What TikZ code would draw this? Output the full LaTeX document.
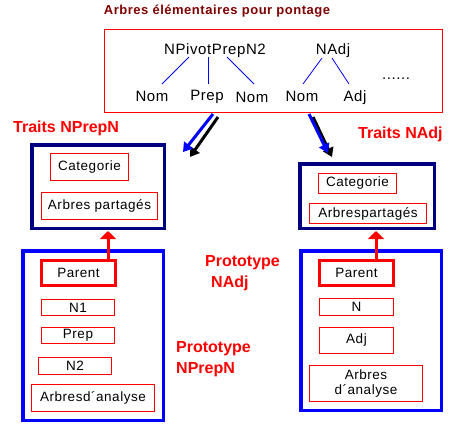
\documentclass[tikz,border=0pt]{standalone}
\usepackage{fontspec}
\setmainfont{Liberation Sans}
\newfontfamily\spc[LetterSpace=4]{Liberation Sans}
\usetikzlibrary{arrows.meta,calc}
\definecolor{navy}{RGB}{0,0,128}
\definecolor{pblue}{RGB}{0,0,255}
\definecolor{pred}{RGB}{255,0,0}
\definecolor{maroon}{RGB}{128,0,0}
\begin{document}
\begin{tikzpicture}[x=1pt,y=-1pt,
  box/.style={draw=pred, line width=1pt, inner sep=0pt, font=\spc\fontsize{13.5}{16}\selectfont},
  pbox/.style={box, line width=3pt},
  feat/.style={draw=navy, line width=3.5pt, inner sep=0pt},
  proto/.style={draw=pblue, line width=3.5pt, inner sep=0pt},
  tree/.style={draw=pblue, line width=0.8pt},
  tt/.style={inner sep=0pt, anchor=base, font=\spc\fontsize{15}{18}\selectfont},
  lab/.style={inner sep=0pt, anchor=base west, text=pred, font=\bfseries\fontsize{16}{19}\selectfont},
  redarr/.style={draw=pred, line width=3pt, -{Triangle[width=16pt,length=8pt]}},
  fat/.style={line width=3pt, -{Triangle[width=11pt,length=9pt]}}]
\fill[white] (0,0) rectangle (455,429);
\useasboundingbox (0,0) rectangle (455,429);

% title
\node[inner sep=0pt, anchor=base, text=maroon, font=\bfseries\spc\fontsize{13}{16}\selectfont] (title) at (217,14) {Arbres élémentaires pour pontage};

% top box
\node[draw=pred, line width=1pt, minimum width=338pt, minimum height=83pt, inner sep=0pt] (top) at (273.5,71) {};
\node[tt] (npv) at (215,54) {NPivotPrepN2};
\node[tt] (nadj) at (333,54) {NAdj};
\node[tt] (nom1) at (152,101) {Nom};
\node[tt] (prep) at (207,100) {Prep};
\node[tt] (nom2) at (252,102) {Nom};
\node[tt] (nom3) at (302,101) {Nom};
\node[tt] (adj) at (355,101) {Adj};
\node[tt] (dots) at (396,79) {......};
\draw[tree] ($(npv.base)+(-26,3)$) -- ($(nom1.base)+(10,-17)$);
\draw[tree] ($(npv.base)+(-7,3)$) -- ($(prep.base)+(1,-16)$);
\draw[tree] ($(npv.base)+(12,3)$) -- ($(nom2.base)+(2,-18)$);
\draw[tree] ($(nadj.base)+(-11,4)$) -- ($(nom3.base)+(1,-17)$);
\draw[tree] ($(nadj.base)+(-1,4)$) -- ($(adj.base)+(-6,-17)$);

% labels
\node[lab] (tnp) at (13,132) {Traits NPrepN};
\node[lab] (tna) at (358,138) {Traits NAdj};
\node[lab] (pna1) at (205,266) {Prototype};
\node[lab] (pna2) at (211,287) {NAdj};
\node[lab] (pnp1) at (176,352) {Prototype};
\node[lab] (pnp2) at (176,373) {NPrepN};

% feature boxes
\node[feat, minimum width=132.5pt, minimum height=83.5pt] (lfeat) at (98,186.5) {};
\node[box, minimum width=78pt, minimum height=27pt] (lcat) at (89.5,167) {Categorie};
\node[box, minimum width=116pt, minimum height=27pt] (larb) at (99.5,206) {Arbres partagés};
\node[feat, minimum width=134.5pt, minimum height=64.5pt] (rfeat) at (367,196) {};
\node[box, minimum width=78pt, minimum height=20pt] (rcat) at (357.5,183.5) {Categorie};
\node[box, minimum width=117pt, minimum height=20pt] (rarb) at (368,213.5) {Arbrespartagés};

% prototype boxes
\node[proto, minimum width=140.5pt, minimum height=169.5pt] (lproto) at (93,335.5) {};
\node[pbox, minimum width=74pt, minimum height=25pt] (lpar) at (78.5,273) {Parent};
\node[box, minimum width=73pt, minimum height=16pt] (ln1) at (78,307.5) {N1};
\node[box, minimum width=73pt, minimum height=16pt] (lprep) at (78,335.5) {Prep};
\node[box, minimum width=73pt, minimum height=17pt] (ln2) at (75,366) {N2};
\node[box, minimum width=123pt, minimum height=27pt] (lana) at (93,398) {Arbresd´analyse};

\node[proto, minimum width=140.5pt, minimum height=159.5pt] (rproto) at (371,330.5) {};
\node[pbox, minimum width=74pt, minimum height=25pt] (rpar) at (356.5,273) {Parent};
\node[box, minimum width=74pt, minimum height=17pt] (rn) at (356.5,307) {N};
\node[box, minimum width=74pt, minimum height=26pt] (radj) at (356.5,340.5) {Adj};
\node[box, minimum width=113pt, minimum height=36pt, align=center] (rana) at (366,383.5) {Arbres\\[-1pt]d´analyse};

% red arrows
\coordinate (lx) at (108,0);
\coordinate (rx) at (376,0);
\draw[redarr] (lpar.north -| lx) -- ($(lfeat.south -| lx)+(0,1)$);
\draw[redarr] (rpar.north -| rx) -- ($(rfeat.south -| rx)+(0,1)$);

% fat arrows
\coordinate (lbk1) at (218,117);
\coordinate (lbk2) at (190,157);
\coordinate (lbl1) at (213,114);
\coordinate (lbl2) at (183,152);
\coordinate (rbk1) at (313,117);
\coordinate (rbk2) at (332,157);
\coordinate (rbl1) at (309,114);
\coordinate (rbl2) at (328,153);
\draw[fat, black] (lbk1) -- (lbk2);
\draw[fat, pblue] (lbl1) -- (lbl2);
\draw[fat, black] (rbk1) -- (rbk2);
\draw[fat, pblue] (rbl1) -- (rbl2);
\end{tikzpicture}
\end{document}
